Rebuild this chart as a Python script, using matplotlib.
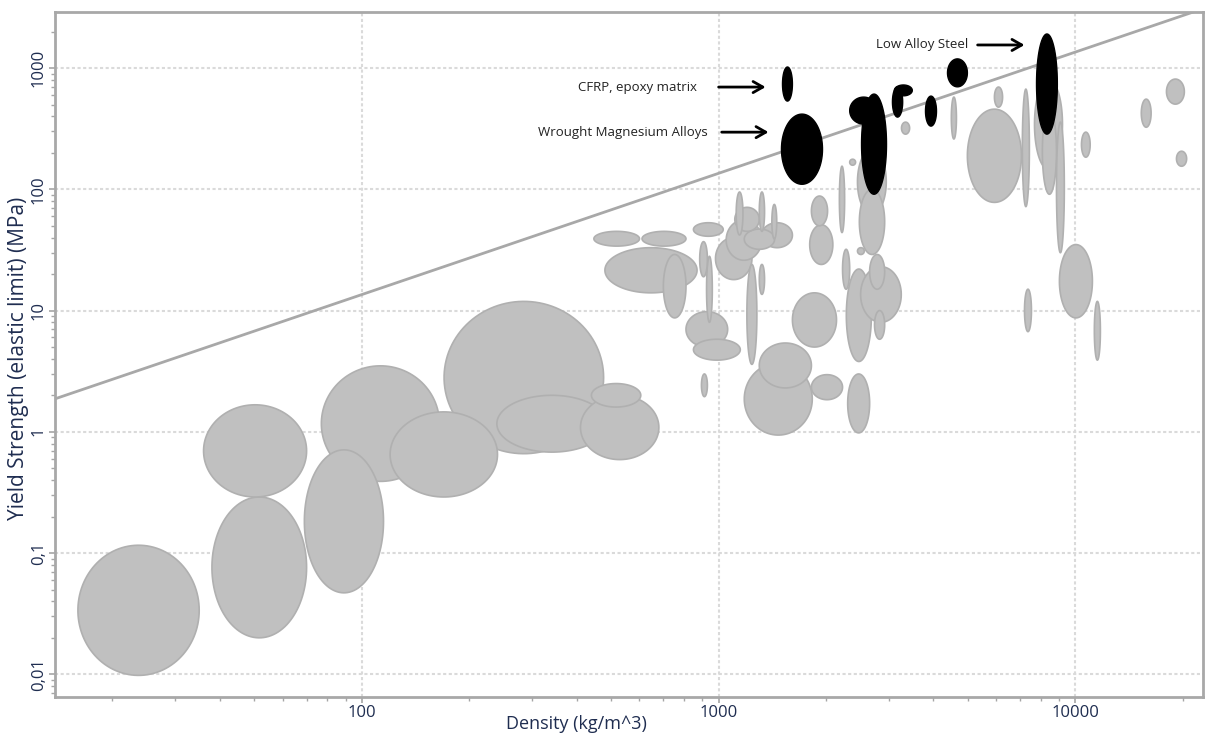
import numpy as np
import matplotlib
matplotlib.use("Agg")
import matplotlib.pyplot as plt
from matplotlib.ticker import FixedLocator, LogLocator, NullFormatter

# ── data: property ranges (density kg/m^3, yield strength MPa) ───────────────
# each row: (rho_lo, rho_hi, sy_lo, sy_hi)
gray_bubbles = [
    (16, 35, 0.0098, 0.116),
    (36, 70, 0.29, 1.67),
    (38, 70, 0.020, 0.29),
    (69, 115, 0.047, 0.71),
    (77, 165, 0.39, 3.5),
    (120, 240, 0.29, 1.46),
    (170, 476, 0.66, 11.9),
    (239, 486, 0.68, 2.0),
    (410, 680, 0.59, 2.0),
    (440, 605, 1.6, 2.5),
    (447, 600, 34, 45),
    (610, 810, 34, 45),
    (480, 870, 14, 33),
    (700, 810, 8.7, 29),
    (850, 1030, 41, 53),
    (885, 930, 19, 37),
    (925, 960, 8, 28),
    (810, 1060, 5.0, 9.8),
    (850, 1150, 3.9, 5.8),
    (1200, 1280, 3.6, 24),
    (1300, 1345, 13.6, 24),
    (895, 930, 1.95, 3.0),
    (1180, 1830, 0.94, 3.7),
    (1300, 1820, 2.3, 5.4),
    (1610, 2140, 5, 14),
    (1820, 2225, 1.84, 2.96),
    (2300, 2650, 0.98, 3.0),
    (2280, 2680, 3.8, 22),
    (2500, 3250, 8, 23),
    (2735, 2920, 5.8, 10),
    (2650, 2920, 15, 29),
    (1820, 2020, 50, 88),
    (1800, 2090, 24, 51),
    (2180, 2255, 44, 155),
    (2225, 2330, 15, 32),
    (2330, 2420, 158, 177),
    (2450, 2560, 29, 33),
    (2450, 2950, 62, 214),
    (2480, 2920, 29, 100),
    (3255, 3430, 285, 358),
    (980, 1240, 18, 40),
    (1050, 1320, 26, 56),
    (1320, 1610, 33, 53),
    (1120, 1170, 42, 95),
    (1300, 1345, 45, 95),
    (1410, 1455, 39, 75),
    (1110, 1300, 45, 71),
    (1180, 1435, 32, 47),
    (4490, 4640, 260, 576),
    (5930, 6250, 476, 697),
    (4980, 7060, 78, 458),
    (7100, 7430, 72, 670),
    (7680, 9200, 146, 810),
    (8080, 8850, 91, 458),
    (8850, 9310, 30, 358),
    (9020, 11160, 8.7, 35),
    (7200, 7530, 6.7, 15),
    (11300, 11750, 3.9, 11.9),
    (10400, 11000, 184, 296),
    (15300, 16300, 325, 554),
    (18000, 20200, 504, 811),
    (19200, 20500, 155, 206),
]

black_bubbles = [
    (1510, 1610, 534, 1020),    # CFRP, epoxy matrix
    (1500, 1955, 110, 417),     # wrought magnesium alloys
    (2515, 2955, 91, 610),      # aluminium alloys
    (2570, 2920, 120, 470),
    (2330, 2790, 345, 576),
    (3110, 3490, 590, 725),
    (3070, 3280, 394, 700),
    (3800, 4080, 332, 587),
    (4380, 4980, 700, 1190),
    (7780, 8900, 285, 1910),    # low alloy steel
    (7820, 8850, 380, 1450),
]

guide_coeff = 0.1355  # sigma_y / rho along the guideline (slope 1)

y_ticks = [0.01, 0.1, 1, 10, 100, 1000]
y_ticklabels = ["0,01", "0,1", "1", "10", "100", "1000"]
x_ticks = [100, 1000, 10000]
x_ticklabels = ["100", "1000", "10000"]

# annotations: (text, text_x, tail_x, tip_x, y)
notes = [
    ("Low Alloy Steel", 5010, 5320, 7200, 1550),
    ("CFRP, epoxy matrix", 868, 1000, 1354, 697),
    ("Wrought Magnesium Alloys", 931, 1020, 1380, 296),
]

xlim = (13.8, 22800)
ylim = (0.0065, 2900)

# ── helpers ──────────────────────────────────────────────────────────────────
def bubble(b, n=120):
    """Ellipse spanning the property ranges, drawn in log-log space."""
    lx0, lx1 = np.log10(b[0]), np.log10(b[1])
    ly0, ly1 = np.log10(b[2]), np.log10(b[3])
    t = np.linspace(0, 2 * np.pi, n)
    lx = (lx0 + lx1) / 2 + (lx1 - lx0) / 2 * np.cos(t)
    ly = (ly0 + ly1) / 2 + (ly1 - ly0) / 2 * np.sin(t)
    return 10 ** lx, 10 ** ly


def log_area(b):
    return np.log10(b[1] / b[0]) * np.log10(b[3] / b[2])


# ── draw ─────────────────────────────────────────────────────────────────────
fig = plt.figure(figsize=(12.06, 7.35), dpi=100)
ax = fig.add_axes([0.0456, 0.0517, 0.952, 0.932])
ax.set_xscale("log")
ax.set_yscale("log")
ax.set_xlim(*xlim)
ax.set_ylim(*ylim)

# guideline
gx = np.array(xlim)
ax.plot(gx, guide_coeff * gx, color="#a8a8a8", lw=2, zorder=2)

# bubbles, big ones first so small ones stay visible
for b in sorted(gray_bubbles, key=log_area, reverse=True):
    x, y = bubble(b)
    ax.fill(x, y, facecolor="#c0c0c0", edgecolor="#b0b0b0", lw=1.2, zorder=3)

for b in black_bubbles:
    x, y = bubble(b)
    ax.fill(x, y, facecolor="black", edgecolor="black", lw=1, zorder=4)

# annotations
for text, tx, tail, tip, y in notes:
    ax.text(tx, y, text, ha="right", va="center", fontsize=9.5,
            color="#222222", family="Open Sans", zorder=5)
    ax.annotate("", xy=(tip, y), xytext=(tail, y),
                arrowprops=dict(arrowstyle="->,head_length=0.7,head_width=0.4",
                                lw=2, color="black", shrinkA=0, shrinkB=0),
                zorder=5)

# axes styling
label_color = "#1f2d50"
ax.xaxis.set_major_locator(FixedLocator(x_ticks))
ax.set_xticklabels(x_ticklabels)
ax.yaxis.set_major_locator(FixedLocator(y_ticks))
ax.set_yticklabels(y_ticklabels, rotation=90, va="center")
for axis in (ax.xaxis, ax.yaxis):
    axis.set_minor_locator(LogLocator(base=10, subs=np.arange(2, 10)))
    axis.set_minor_formatter(NullFormatter())

ax.tick_params(which="both", direction="out", color="#a6a6a6",
               labelcolor=label_color, labelsize=12)
ax.tick_params(which="major", length=4, width=1.2, pad=2)
ax.tick_params(which="minor", length=3, width=1)

for lab in ax.get_xticklabels() + ax.get_yticklabels():
    lab.set_family("Open Sans")

ax.grid(which="major", color="#dadada", linestyle=(0, (1.5, 1.2)), lw=1.5, zorder=1)
ax.set_axisbelow(True)

for s in ax.spines.values():
    s.set_color("#a8a8a8")
    s.set_linewidth(2)

ax.set_xlabel("Density (kg/m^3)", fontsize=13, color=label_color, family="Open Sans")
ax.set_ylabel("Yield Strength (elastic limit) (MPa)", fontsize=15,
              color=label_color, family="Open Sans")
ax.xaxis.set_label_coords(0.454, -0.026)
ax.yaxis.set_label_coords(-0.023, 0.495)

fig.savefig("out.png", dpi=100)
